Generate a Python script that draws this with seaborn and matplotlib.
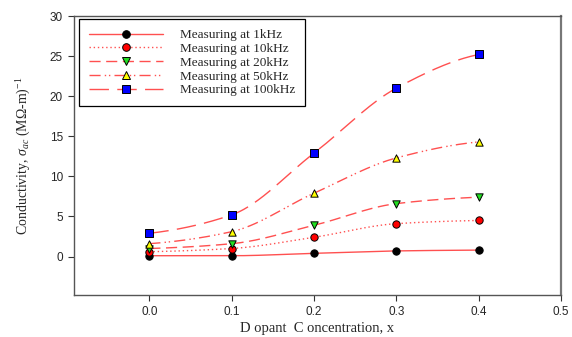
import numpy as np
import pandas as pd
import matplotlib
matplotlib.use("Agg")
import matplotlib.pyplot as plt
import seaborn as sns

# Conductivity vs dopant concentration at several measuring frequencies
concentration = [0.0, 0.1, 0.2, 0.3, 0.4]
sigma_1k = [0.1, 0.1, 0.4, 0.7, 0.8]
sigma_10k = [0.6, 1.0, 2.4, 4.1, 4.5]
sigma_20k = [1.0, 1.6, 3.9, 6.6, 7.4]
sigma_50k = [1.6, 3.1, 7.9, 12.3, 14.3]
sigma_100k = [2.9, 5.2, 12.9, 21.0, 25.2]
series_labels = ["Measuring at 1kHz", "Measuring at 10kHz", "Measuring at 20kHz",
                 "Measuring at 50kHz", "Measuring at 100kHz"]
x_ticks = [0.0, 0.1, 0.2, 0.3, 0.4, 0.5]
y_ticks = [0, 5, 10, 15, 20, 25, 30]

sns.set_style("white")
plt.rcParams["mathtext.fontset"] = "custom"
plt.rcParams["mathtext.rm"] = "Liberation Serif"
plt.rcParams["mathtext.it"] = "Liberation Serif:italic"

df = pd.DataFrame({
    "x": concentration * 5,
    "sigma": sigma_1k + sigma_10k + sigma_20k + sigma_50k + sigma_100k,
    "series": np.repeat(series_labels, len(concentration)),
})

styles = {
    series_labels[0]: dict(ls="-", marker="o", fc="black"),
    series_labels[1]: dict(ls=(0, (1, 2)), marker="o", fc="#ff0000"),
    series_labels[2]: dict(ls=(0, (8, 4)), marker="v", fc="#22dd22"),
    series_labels[3]: dict(ls=(0, (8, 3, 1, 2, 1, 3)), marker="^", fc="#ffff00"),
    series_labels[4]: dict(ls=(0, (14, 6)), marker="s", fc="#0000ff"),
}


def pchip(xs, ys, xq):
    """Monotone piecewise cubic through the measured points."""
    xs = np.asarray(xs, float)
    ys = np.asarray(ys, float)
    h = np.diff(xs)
    d = np.diff(ys) / h
    m = np.zeros_like(ys)
    for k in range(1, len(xs) - 1):
        if d[k - 1] * d[k] > 0:
            w1 = 2 * h[k] + h[k - 1]
            w2 = h[k] + 2 * h[k - 1]
            m[k] = (w1 + w2) / (w1 / d[k - 1] + w2 / d[k])
    m[0] = d[0] * 0.5
    m[-1] = d[-1] * 0.5
    out = np.empty_like(xq)
    for i, xv in enumerate(xq):
        k = min(np.searchsorted(xs, xv, side="right") - 1, len(xs) - 2)
        t = (xv - xs[k]) / h[k]
        h00 = 2 * t**3 - 3 * t**2 + 1
        h10 = t**3 - 2 * t**2 + t
        h01 = -2 * t**3 + 3 * t**2
        h11 = t**3 - t**2
        out[i] = h00 * ys[k] + h10 * h[k] * m[k] + h01 * ys[k + 1] + h11 * h[k] * m[k + 1]
    return out


fig = plt.figure(figsize=(5.72, 3.37), dpi=100)
ax = fig.add_axes([0.1294, 0.1246, 0.8514, 0.8279])

line_color = "#ff5050"
xq = np.linspace(0.0, 0.4, 200)
handles = []
for name in series_labels:
    sub = df[df["series"] == name]
    st = styles[name]
    ax.plot(xq, pchip(sub["x"], sub["sigma"], xq), color=line_color, lw=1.0,
            ls=st["ls"], zorder=2)
    sns.scatterplot(data=sub, x="x", y="sigma", ax=ax, marker=st["marker"],
                    color=st["fc"], edgecolor="black", linewidth=0.7, s=28,
                    zorder=3, legend=False)
    handles.append(plt.Line2D([], [], color=line_color, lw=1.0, ls=st["ls"],
                              marker=st["marker"], markerfacecolor=st["fc"],
                              markeredgecolor="black", markersize=5.5,
                              markeredgewidth=0.7))

ax.set_xlim(-0.0915, 0.5)
ax.set_ylim(-4.8, 30)
ax.set_xticks(x_ticks)
ax.set_xticklabels([f"{v:.1f}" for v in x_ticks], family="Liberation Sans", fontsize=8.5)
ax.set_yticks(y_ticks)
ax.set_yticklabels([str(v) for v in y_ticks], family="Liberation Sans", fontsize=8.5)
ax.tick_params(direction="out", length=4, width=0.8, color="#333333", pad=4,
               bottom=True, left=True)
for sp in ax.spines.values():
    sp.set_color("#555555")
    sp.set_linewidth(1.0)
ax.spines["right"].set_linewidth(1.6)
ax.spines["right"].set_color("#777777")

ax.set_xlabel("D opant  C oncentration, x", family="Liberation Serif", fontsize=10.5,
              labelpad=3)
ax.set_ylabel(r"Conductivity, $\sigma_{ac}$ (M$\Omega$-m)$^{-1}$",
              family="Liberation Serif", fontsize=10, labelpad=12)

leg = ax.legend(handles, series_labels, loc="upper left",
                bbox_to_anchor=(0.01, 0.989), borderaxespad=0, frameon=True,
                fancybox=False, edgecolor="black", framealpha=1,
                handlelength=5.6, handletextpad=1.3, borderpad=0.75,
                labelspacing=0.12,
                prop={"family": "Liberation Serif", "size": 9.5})
leg.get_frame().set_linewidth(0.9)

fig.savefig("out.png", dpi=100)
